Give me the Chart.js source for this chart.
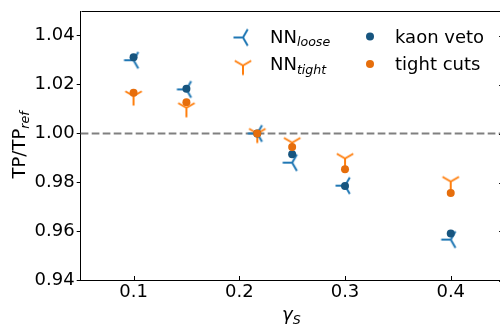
<!DOCTYPE html>
<html lang="en">
<head>
    <meta charset="UTF-8">
    <title>TP/TP_ref vs gamma_S</title>
    <style>
        body {
            margin: 0;
            background-color: #ffffff;
            overflow: hidden;
        }

        .chart-container {
            position: relative;
            width: 520px;
            height: 327px;
        }
    </style>
</head>
<body>

<div class="chart-container">
    <canvas id="ratioChart" width="520" height="327"></canvas>
</div>

<script src="https://cdn.jsdelivr.net/npm/chart.js"></script>
<script>
    // gamma_S values where the selections were evaluated
    const gammaS = [0.1, 0.15, 0.217, 0.25, 0.3, 0.4];

    // TP / TP_ref for each selection
    const nnLoose    = [1.0299, 1.0180, 1.0000, 0.9881, 0.9787, 0.9567];
    const nnTight    = [1.0153, 1.0105, 1.0000, 0.9963, 0.9898, 0.9804];
    const kaonVeto   = [1.0311, 1.0183, 1.0000, 0.9915, 0.9786, 0.9592];
    const tightCuts  = [1.0166, 1.0128, 1.0000, 0.9945, 0.9854, 0.9757];

    // axis ticks
    const xTicks = [0.1, 0.2, 0.3, 0.4];
    const yTicks = [0.94, 0.96, 0.98, 1.00, 1.02, 1.04];
    const refValue = 1.0;

    const FONT = '"DejaVu Sans", sans-serif';
    const blueLight = '#1f77b4';
    const orangeLight = '#ff7f0e';
    const blueDark = '#17557f';
    const orangeDark = '#e66e0c';

    // matplotlib-like tri markers drawn onto a small canvas
    function makeTri(color, arms) {
        const c = document.createElement('canvas');
        c.width = 24;
        c.height = 24;
        const g = c.getContext('2d');
        g.strokeStyle = color;
        g.lineWidth = 2;
        g.beginPath();
        arms.forEach(([dx, dy]) => {
            g.moveTo(12, 12);
            g.lineTo(12 + dx * 9.5, 12 + dy * 9.5);
        });
        g.stroke();
        return c;
    }

    const triLeft = makeTri(blueLight, [[-1, 0], [0.5, -0.866], [0.5, 0.866]]);
    const triDown = makeTri(orangeLight, [[0, 1], [-0.866, -0.5], [0.866, -0.5]]);

    const toPoints = ys => gammaS.map((x, i) => ({x: x, y: ys[i]}));

    // text with a smaller italic subscript, like mathtext
    function drawSubText(ctx, main, sub, x, y, mainItalic) {
        ctx.font = (mainItalic ? 'italic ' : '') + '18px ' + FONT;
        ctx.fillText(main, x, y);
        const w = ctx.measureText(main).width;
        ctx.font = 'italic 12.6px ' + FONT;
        ctx.fillText(sub, x + w, y + 3.5);
    }

    const framePlugin = {
        id: 'frame',
        beforeDatasetsDraw(chart) {
            const ctx = chart.ctx;
            const area = chart.chartArea;
            const yPix = chart.scales.y.getPixelForValue(refValue);
            ctx.save();
            ctx.strokeStyle = '#808080';
            ctx.lineWidth = 2;
            ctx.setLineDash([7.7, 3.3]);
            ctx.beginPath();
            ctx.moveTo(area.left, yPix);
            ctx.lineTo(area.right, yPix);
            ctx.stroke();
            ctx.restore();
        },
        afterDraw(chart) {
            const ctx = chart.ctx;
            const area = chart.chartArea;
            const xs = chart.scales.x;
            const ys = chart.scales.y;
            ctx.save();

            // top and right spines
            ctx.strokeStyle = '#000';
            ctx.lineWidth = 1;
            ctx.beginPath();
            ctx.moveTo(Math.round(area.left) + 0.5, Math.round(area.top) + 0.5);
            ctx.lineTo(area.right, Math.round(area.top) + 0.5);
            ctx.moveTo(Math.round(area.right) + 0.5, area.top);
            ctx.lineTo(Math.round(area.right) + 0.5, area.bottom);
            ctx.stroke();

            // inward x ticks on the bottom, inward y ticks on the right
            ctx.beginPath();
            xTicks.forEach(v => {
                const px = Math.round(xs.getPixelForValue(v)) + 0.5;
                ctx.moveTo(px, area.bottom);
                ctx.lineTo(px, area.bottom - 4.5);
            });
            yTicks.forEach(v => {
                const py = Math.round(ys.getPixelForValue(v)) + 0.5;
                ctx.moveTo(area.right, py);
                ctx.lineTo(area.right - 4.5, py);
            });
            ctx.stroke();

            // axis titles
            ctx.fillStyle = '#000';
            ctx.textBaseline = 'alphabetic';
            ctx.textAlign = 'left';
            drawSubText(ctx, '\u03b3', 'S', 282, 320, true);

            ctx.save();
            ctx.translate(25, 178.5);
            ctx.rotate(-Math.PI / 2);
            drawSubText(ctx, 'TP/TP', 'ref', 0, 0, false);
            ctx.restore();

            // legend (two columns)
            ctx.drawImage(triLeft, 243 - 12, 37.5 - 12);
            ctx.drawImage(triDown, 243 - 12, 65.5 - 12);
            drawSubText(ctx, 'NN', 'loose', 270, 42.5, false);
            drawSubText(ctx, 'NN', 'tight', 270, 70, false);

            ctx.fillStyle = blueDark;
            ctx.beginPath();
            ctx.arc(370, 36.5, 4, 0, Math.PI * 2);
            ctx.fill();
            ctx.fillStyle = orangeDark;
            ctx.beginPath();
            ctx.arc(370, 64, 4, 0, Math.PI * 2);
            ctx.fill();
            ctx.fillStyle = '#000';
            ctx.font = '18px ' + FONT;
            ctx.fillText('kaon veto', 395, 42.5);
            ctx.fillText('tight cuts', 395, 70);

            ctx.restore();
        }
    };

    const config = {
        type: 'scatter',
        data: {
            datasets: [
                {
                    label: 'tight cuts',
                    data: toPoints(tightCuts),
                    backgroundColor: orangeDark,
                    borderWidth: 0,
                    pointRadius: 4,
                    order: 0
                },
                {
                    label: 'kaon veto',
                    data: toPoints(kaonVeto),
                    backgroundColor: blueDark,
                    borderWidth: 0,
                    pointRadius: 4,
                    order: 1
                },
                {
                    label: 'NN tight',
                    data: toPoints(nnTight),
                    pointStyle: triDown,
                    order: 2
                },
                {
                    label: 'NN loose',
                    data: toPoints(nnLoose),
                    pointStyle: triLeft,
                    order: 3
                }
            ]
        },
        options: {
            responsive: false,
            animation: false,
            devicePixelRatio: 1,
            events: [],
            layout: {
                padding: {left: 0, top: 10, right: 16.4, bottom: 0}
            },
            plugins: {
                legend: {display: false},
                tooltip: {enabled: false}
            },
            scales: {
                x: {
                    type: 'linear',
                    min: 0.05,
                    max: 0.45,
                    afterBuildTicks: s => { s.ticks = xTicks.map(v => ({value: v})); },
                    afterFit: s => { s.height = 46.5; },
                    grid: {display: false, drawTicks: false},
                    border: {display: true, color: '#000', width: 1},
                    ticks: {
                        color: '#000',
                        font: {family: FONT, size: 18},
                        padding: 1.5,
                        maxRotation: 0,
                        autoSkip: false,
                        callback: v => v.toFixed(1)
                    }
                },
                y: {
                    min: 0.94,
                    max: 1.05,
                    afterBuildTicks: s => { s.ticks = yTicks.map(v => ({value: v})); },
                    afterFit: s => { s.width = 80.7; },
                    grid: {
                        display: true,
                        drawOnChartArea: false,
                        drawTicks: true,
                        tickLength: 4,
                        color: '#000'
                    },
                    border: {display: true, color: '#000', width: 1},
                    ticks: {
                        color: '#000',
                        font: {family: FONT, size: 18, lineHeight: 1},
                        padding: 2,
                        autoSkip: false,
                        callback: v => v.toFixed(2)
                    }
                }
            }
        },
        plugins: [framePlugin]
    };

    const ratioChart = new Chart(
        document.getElementById('ratioChart'),
        config
    );
</script>

</body>
</html>
